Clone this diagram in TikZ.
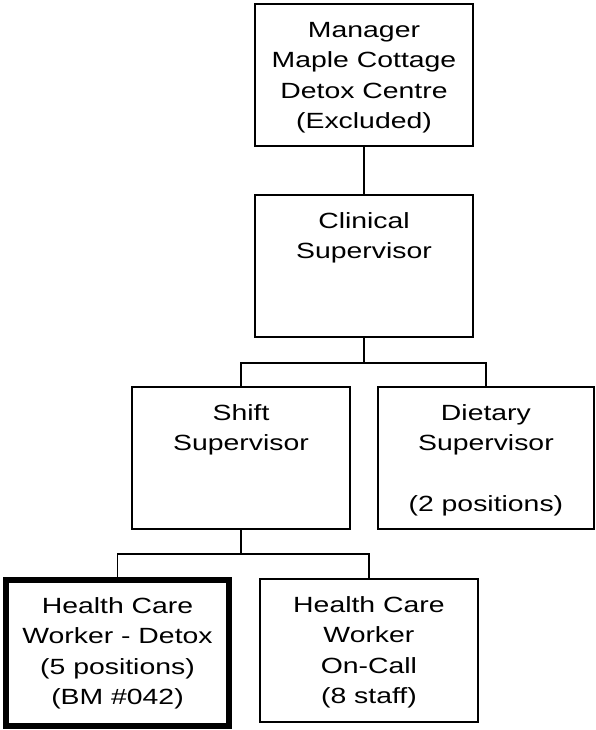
\documentclass[tikz,border=0pt]{standalone}
\usepackage{fontspec}
\setmainfont{Liberation Sans}[FakeStretch=1.29]
\usetikzlibrary{positioning}
\newcommand{\post}[3]{\parbox[c][#2][t]{#1}{\centering\rule{0pt}{33.5pt}#3}}

\begin{document}
\begin{tikzpicture}[x=1pt, y=1pt, line width=1.9pt, main/.style = {draw, rectangle, inner sep=0pt, font=\fontsize{22pt}{30.5pt}\selectfont}, open/.style = {main, line width=6pt}]
\useasboundingbox (0,0) rectangle (595,-730);
\node[main] (1) at (364,-75) {\post{218pt}{142pt}{Manager\\Maple Cottage\\Detox Centre\\(Excluded)}};
\node[main] (2) [below=47pt of 1] {\post{218pt}{142pt}{Clinical\\Supervisor}};
\node[main] (3) [below=48pt of 2, xshift=-123pt] {\post{218pt}{142pt}{Shift\\Supervisor}};
\node[main] (4) [right=26pt of 3] {\post{216pt}{142pt}{Dietary\\Supervisor\\[30.5pt](2 positions)}};
\node[open] (5) [below=47pt of 3, xshift=-123.5pt] {\post{223pt}{146pt}{Health Care\\Worker - Detox\\(5 positions)\\(BM \#042)}};
\node[main] (6) [right=27pt of 5, yshift=2.5pt] {\post{218pt}{143pt}{Health Care\\Worker\\On-Call\\(8 staff)}};

\draw (1) -- (2);
\draw (2.south) -- ++(0,-25) -| (3.north);
\draw (2.south) -- ++(0,-25) -| (4.north);
\draw (3.south) -- ++(0,-24.5) -| (5.north);
\draw (3.south) -- ++(0,-24.5) -| (6.north);
\end{tikzpicture}
\end{document}
